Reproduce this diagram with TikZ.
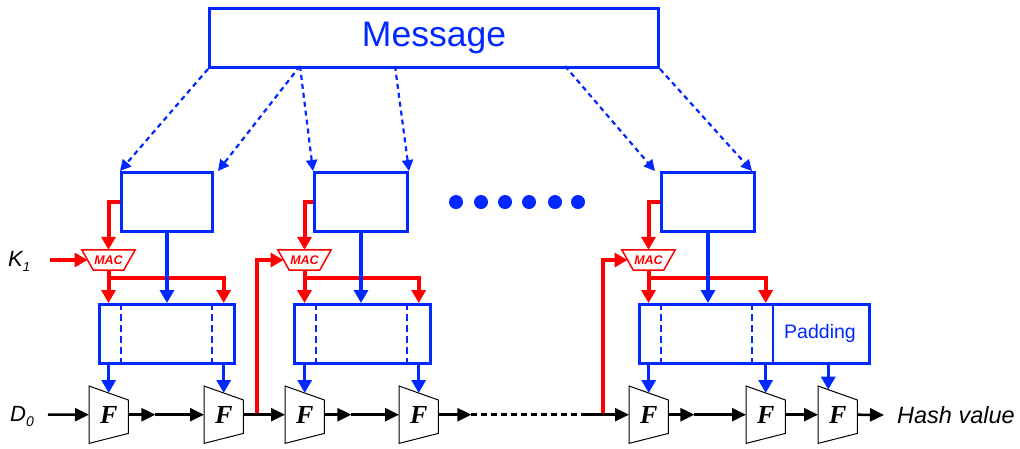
\documentclass[tikz,border=0pt]{standalone}
\usepackage{fontspec}
\newfontfamily\arial{Liberation Sans}
\newfontfamily\tnr{Liberation Serif}
\usetikzlibrary{arrows.meta,calc}
\definecolor{myblue}{RGB}{0,40,255}
\definecolor{myred}{RGB}{255,0,0}
\tikzset{
 bbox/.style={draw=myblue, line width=3pt, inner sep=0pt, anchor=north west, minimum height=59pt},
 fnode/.style={inner sep=0pt, anchor=north west, minimum width=39pt, minimum height=57pt, font=\tnr\bfseries\itshape\fontsize{26}{26}\selectfont},
 fshape/.style={draw=black, line width=1pt, line join=miter},
 macnode/.style={inner sep=0pt, minimum width=53pt, minimum height=20pt, text=myred, font=\arial\bfseries\itshape\fontsize{12.5}{12.5}\selectfont},
 macshape/.style={draw=myred, line width=1.5pt},
 redl/.style={draw=myred, line width=4pt},
 redarr/.style={redl, -{Triangle[length=13pt,width=14pt]}},
 bluel/.style={draw=myblue, line width=3.5pt},
 bluearr/.style={bluel, -{Triangle[length=13pt,width=14pt]}},
 dasharr/.style={draw=myblue, line width=2.2pt, dash pattern=on 5pt off 4pt, -{Triangle[length=11pt,width=11pt]}},
 innerdash/.style={draw=myblue, line width=2.5pt, dash pattern=on 7pt off 4pt},
 blk/.style={draw=black, line width=2.5pt},
 blkarr/.style={blk, -{Triangle[length=14pt,width=13pt]}},
 dotnode/.style={circle, fill=myblue, inner sep=0pt, minimum size=14pt},
 lbl/.style={anchor=base west, inner sep=0pt, font=\arial\itshape\fontsize{22}{22}\selectfont},
}
\begin{document}
\begin{tikzpicture}[x=1pt,y=-1pt]
\useasboundingbox[fill=white] (0,0) rectangle (1020,448);

% boxes
\node[bbox, minimum width=449pt, font=\arial\fontsize{35.5}{40}\selectfont, text=myblue] (msg) at (208,7) {Message};
\node[bbox, minimum width=91pt] (up1) at (120,171) {};
\node[bbox, minimum width=93pt] (up2) at (313,171) {};
\node[bbox, minimum width=93pt] (up3) at (660,171) {};
\node[bbox, minimum width=135pt] (low1) at (98,303) {};
\node[bbox, minimum width=136pt] (low2) at (293,303) {};
\node[bbox, minimum width=230pt] (low3) at (638,303) {};
\node[font=\arial\fontsize{19.5}{20}\selectfont, text=myblue] (pad) at (820,333) {Padding};

% inner dashed separators
\foreach \b in {low1,low2,low3}{
  \draw[innerdash] ([xshift=23pt]\b.north west) -- ([xshift=23pt]\b.south west);
  \draw[innerdash] ([xshift=114pt]\b.north west) -- ([xshift=114pt]\b.south west);
}
\draw[bluel, line width=2.5pt] ([xshift=135pt]low3.north west) -- ([xshift=135pt]low3.south west);

% dots
\foreach \x [count=\i] in {456,481,505,529,555,578}
  \node[dotnode] (dot\i) at (\x,202) {};

% F blocks
\node[fnode] (f1) at (89,386) {F};
\node[fnode] (f2) at (204,386) {F};
\node[fnode] (f3) at (285,386) {F};
\node[fnode] (f4) at (399,386) {F};
\node[fnode] (f5) at (629,386) {F};
\node[fnode] (f6) at (746,386) {F};
\node[fnode] (f7) at (818,386) {F};
\foreach \f in {f1,f2,f3,f4,f5,f6,f7}
  \draw[fshape] (\f.north west) -- ([yshift=-14pt]\f.north east) -- ([yshift=10pt]\f.south east) -- (\f.south west) -- cycle;
\foreach \f in {1,...,6}
  \coordinate (t\f) at ($(f\f.north west)!0.5!([yshift=-14pt]f\f.north east)$);
\coordinate (t7) at ($(f7.north west)!0.26!([yshift=-14pt]f7.north east)$);

% MAC blocks
\node[macnode] (mac1) at (108.5,260) {MAC};
\node[macnode] (mac2) at (304.5,260) {MAC};
\node[macnode] (mac3) at (648.5,260) {MAC};
\foreach \m in {mac1,mac2,mac3}
  \draw[macshape] (\m.north west) -- (\m.north east) -- ([xshift=-11.5pt]\m.south east) -- ([xshift=11.5pt]\m.south west) -- cycle;

% labels
\node[lbl] (k1) at (8,266) {K\raisebox{-5pt}{\fontsize{13}{13}\selectfont 1}};
\node[lbl] (d0) at (10,421) {D\raisebox{-5pt}{\fontsize{14}{14}\selectfont 0}};
\node[lbl, anchor=west, font=\arial\itshape\fontsize{23.5}{24}\selectfont] (hash) at (897,415) {Hash value};

% message distribution
\coordinate (m2) at (300,66);
\coordinate (m4) at (395,66);
\coordinate (m5) at (565,66);
\draw[dasharr] (msg.south west) -- (up1.north west);
\draw[dasharr] (m2) -- ([xshift=4pt]up1.north east);
\draw[dasharr] (m2) -- (up2.north west);
\draw[dasharr] (m4) -- (up2.north east);
\draw[dasharr] (m5) -- ([xshift=-5pt]up3.north west);
\draw[dasharr] (msg.south east) -- ([xshift=-4pt]up3.north east);

% key inputs and MAC wiring
\coordinate (k1in) at (50,260);
\draw[redarr] (k1in) -- ([xshift=5.75pt]mac1.west);
\foreach \i/\u/\l/\ta/\tb in {1/up1/low1/t1/t2, 2/up2/low2/t3/t4, 3/up3/low3/t5/t6}{
  \draw[redarr] (\u.west) -| (mac\i.north);
  \coordinate (j\i) at ($(mac\i.south)+(0,8)$);
  \draw[redarr] (mac\i.south) -- (mac\i.south |- \l.north);
  \draw[redarr] (j\i) -| (\tb |- \l.north);
  \draw[bluearr] (\u.south) -- (\u.south |- \l.north);
  \draw[bluearr] (\l.south -| \ta) -- (\ta);
  \draw[bluearr] (\l.south -| \tb) -- (\tb);
}
\draw[bluearr] (low3.south -| t7) -- (t7);

% chaining values
\path (f2.east) ++(14,0) coordinate (r1);
\path (f5.west) ++(-26,0) coordinate (r2);
\draw[redarr] (r1) |- ([xshift=5.75pt]mac2.west);
\draw[redarr] (r2) |- ([xshift=5.75pt]mac3.west);

\coordinate (d0in) at (48,414.5);
\path (f1.east) ++(27,0) coordinate (c1);
\path (f3.east) ++(27,0) coordinate (c3);
\path (f4.east) ++(33,0) coordinate (c4);
\path (f5.west) ++(-44,0) coordinate (c4b);
\path (f5.east) ++(26,0) coordinate (c5);
\draw[blkarr] (d0in) -- (f1.west);
\draw[blkarr] (f1.east) -- (c1);
\draw[blkarr] (c1) -- (f2.west);
\draw[blkarr] (f2.east) -- (f3.west);
\draw[blkarr] (f3.east) -- (c3);
\draw[blkarr] (c3) -- (f4.west);
\draw[blkarr] (f4.east) -- (c4);
\draw[blk, dash pattern=on 6pt off 4pt] (c4) -- (c4b);
\draw[blkarr] (c4b) -- (f5.west);
\draw[blkarr] (f5.east) -- (c5);
\draw[blkarr] (c5) -- (f6.west);
\draw[blkarr] (f6.east) -- (f7.west);
\draw[blkarr] (f7.east) -- ([xshift=-13pt]hash.west);
\end{tikzpicture}
\end{document}
